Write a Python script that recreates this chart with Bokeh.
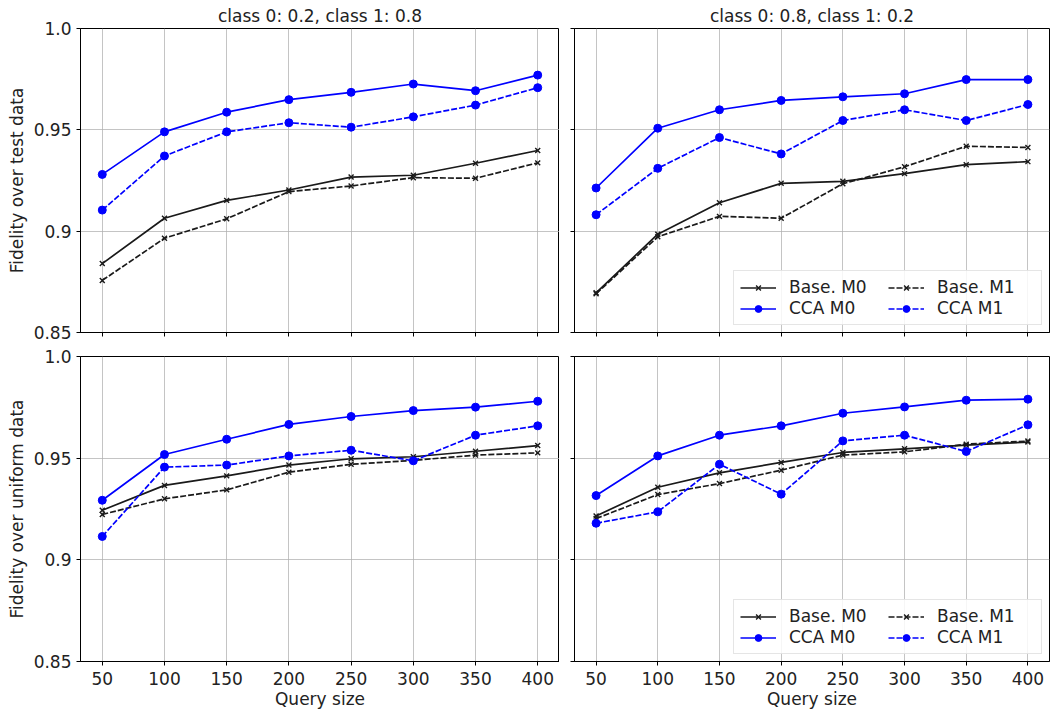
from bokeh.plotting import figure
from bokeh.layouts import gridplot
from bokeh.models import Range1d, FixedTicker, CustomJSTickFormatter
from bokeh.embed import file_html
from bokeh.resources import INLINE

query_size = [50, 100, 150, 200, 250, 300, 350, 400]
y_ticks = [0.85, 0.9, 0.95, 1.0]

titles = ["class 0: 0.2, class 1: 0.8", "class 0: 0.8, class 1: 0.2"]
row_labels = ["Fidelity over test data", "Fidelity over uniform data"]

# top-left: test data, class 0: 0.2
tl_base_m0 = [0.884, 0.9064, 0.9152, 0.9203, 0.9267, 0.9276, 0.9335, 0.9398]
tl_base_m1 = [0.8757, 0.8965, 0.9061, 0.9195, 0.9223, 0.9264, 0.9261, 0.9337]
tl_cca_m0 = [0.928, 0.949, 0.9587, 0.9649, 0.9685, 0.9726, 0.9693, 0.977]
tl_cca_m1 = [0.9104, 0.9371, 0.949, 0.9535, 0.9513, 0.9564, 0.9622, 0.9708]

# top-right: test data, class 0: 0.8
tr_base_m0 = [0.8696, 0.8985, 0.914, 0.9236, 0.9246, 0.9284, 0.9328, 0.9343]
tr_base_m1 = [0.8691, 0.8972, 0.9073, 0.9064, 0.9234, 0.9318, 0.9419, 0.9413]
tr_cca_m0 = [0.9213, 0.9508, 0.9599, 0.9645, 0.9663, 0.9678, 0.9748, 0.9748]
tr_cca_m1 = [0.9081, 0.931, 0.9462, 0.9381, 0.9546, 0.9599, 0.9546, 0.9625]

# bottom-left: uniform data, class 0: 0.2
bl_base_m0 = [0.9244, 0.9366, 0.9413, 0.9466, 0.9497, 0.9507, 0.9534, 0.9562]
bl_base_m1 = [0.9223, 0.930, 0.9344, 0.9431, 0.947, 0.9489, 0.9515, 0.9526]
bl_cca_m0 = [0.9293, 0.9518, 0.9593, 0.9666, 0.9705, 0.9734, 0.9751, 0.978]
bl_cca_m1 = [0.9115, 0.9456, 0.9466, 0.9511, 0.9539, 0.9487, 0.9613, 0.9659]

# bottom-right: uniform data, class 0: 0.8
br_base_m0 = [0.9216, 0.9357, 0.9428, 0.9479, 0.9528, 0.9546, 0.9564, 0.9579]
br_base_m1 = [0.9203, 0.9321, 0.9375, 0.9441, 0.9515, 0.9531, 0.9569, 0.9584]
br_cca_m0 = [0.9316, 0.9511, 0.9613, 0.9659, 0.9721, 0.9752, 0.9785, 0.979]
br_cca_m1 = [0.918, 0.9236, 0.947, 0.9323, 0.9585, 0.9613, 0.9533, 0.9664]

FONT = "DejaVu Sans"
FS = "17px"
BLACK = "#1a1a1a"
BLUE = "#0000ff"


def make_panel(row, col, series, with_legend):
    left = 80 if col == 0 else 15
    right = 0 if col == 0 else 1
    fw = 479 if col == 0 else 475
    top = 28 if row == 0 else 10
    bottom = 14 if row == 0 else 51
    fh = 304 if row == 0 else 305
    p = figure(frame_width=fw, frame_height=fh,
               x_range=Range1d(32.5, 417.5), y_range=Range1d(0.85, 1.0),
               output_backend="svg", toolbar_location=None,
               min_border_left=left, min_border_right=right,
               min_border_top=top, min_border_bottom=bottom)
    p.outline_line_color = "black"
    p.outline_line_width = 1
    p.background_fill_color = "white"
    p.border_fill_color = "white"

    for g in (p.xgrid, p.ygrid):
        g.grid_line_color = "#b0b0b0"
        g.grid_line_alpha = 0.75
        g.grid_line_width = 1
    p.xaxis.ticker = FixedTicker(ticks=query_size)
    p.yaxis.ticker = FixedTicker(ticks=y_ticks)
    for ax in (p.xaxis[0], p.yaxis[0]):
        ax.axis_line_color = "black"
        ax.major_tick_line_color = "black"
        ax.major_tick_out = 4
        ax.major_tick_in = 0
        ax.minor_tick_line_color = None
        ax.major_label_text_font = FONT
        ax.major_label_text_font_size = FS
        ax.major_label_text_color = "#222222"
        ax.axis_label_text_font = FONT
        ax.axis_label_text_font_size = FS
        ax.axis_label_text_font_style = "normal"
        ax.axis_label_text_color = "#222222"

    if col == 0:
        p.yaxis.formatter = CustomJSTickFormatter(
            code="return Math.abs(tick - 1) < 1e-9 ? '1.0' : String(Math.round(tick * 100) / 100);")
        p.yaxis.major_label_standoff = 5
        p.yaxis.axis_label = row_labels[row]
        p.yaxis.axis_label_standoff = 4
    else:
        p.yaxis.formatter = CustomJSTickFormatter(code="return '';")
        p.yaxis.major_label_text_font_size = "0px"
        p.yaxis.major_label_standoff = 0

    if row == 1:
        p.xaxis.major_label_standoff = 6
        p.xaxis.axis_label = "Query size"
        p.xaxis.axis_label_standoff = 1
    else:
        p.xaxis.formatter = CustomJSTickFormatter(code="return '';")
        p.xaxis.major_label_text_font_size = "0px"
        p.xaxis.major_label_standoff = 0
        p.title.text = titles[col]
        p.title.text_font = FONT
        p.title.text_font_size = FS
        p.title.text_font_style = "normal"
        p.title.text_color = "#222222"
        p.title.align = "center"
        p.title.standoff = 5

    base_m0, base_m1, cca_m0, cca_m1 = series
    specs = [
        ("Base. M0", base_m0, BLACK, "solid", "x"),
        ("CCA M0", cca_m0, BLUE, "solid", "circle"),
        ("Base. M1", base_m1, BLACK, "6 2", "x"),
        ("CCA M1", cca_m1, BLUE, "6 2", "circle"),
    ]
    for label, ys, color, dash, marker in specs:
        kw = {"legend_label": label} if with_legend else {}
        p.line(query_size, ys, line_color=color, line_width=1.7, line_dash=dash, **kw)
        if marker == "x":
            p.scatter(query_size, ys, marker="x", size=7, line_color=color,
                      line_width=1.4, **kw)
        else:
            p.scatter(query_size, ys, marker="circle", size=8, fill_color=color,
                      line_color=color, **kw)

    if with_legend:
        lg = p.legend[0]
        lg.ncols = 2
        lg.location = "bottom_right"
        lg.margin = 7
        lg.padding = 6
        lg.spacing = 1
        lg.label_text_font = FONT
        lg.label_text_font_size = FS
        lg.label_text_color = "#222222"
        lg.glyph_width = 36
        lg.glyph_height = 17
        lg.label_height = 17
        lg.label_width = 98
        lg.label_standoff = 13
        lg.border_line_color = "#cccccc"
        lg.border_line_width = 1
        lg.background_fill_color = "white"
        lg.background_fill_alpha = 0.85
    return p


p1 = make_panel(0, 0, (tl_base_m0, tl_base_m1, tl_cca_m0, tl_cca_m1), False)
p2 = make_panel(0, 1, (tr_base_m0, tr_base_m1, tr_cca_m0, tr_cca_m1), True)
p3 = make_panel(1, 0, (bl_base_m0, bl_base_m1, bl_cca_m0, bl_cca_m1), False)
p4 = make_panel(1, 1, (br_base_m0, br_base_m1, br_cca_m0, br_cca_m1), True)

grid = gridplot([[p1, p2], [p3, p4]], toolbar_location=None)

open("out.html", "w").write(file_html(grid, INLINE))
